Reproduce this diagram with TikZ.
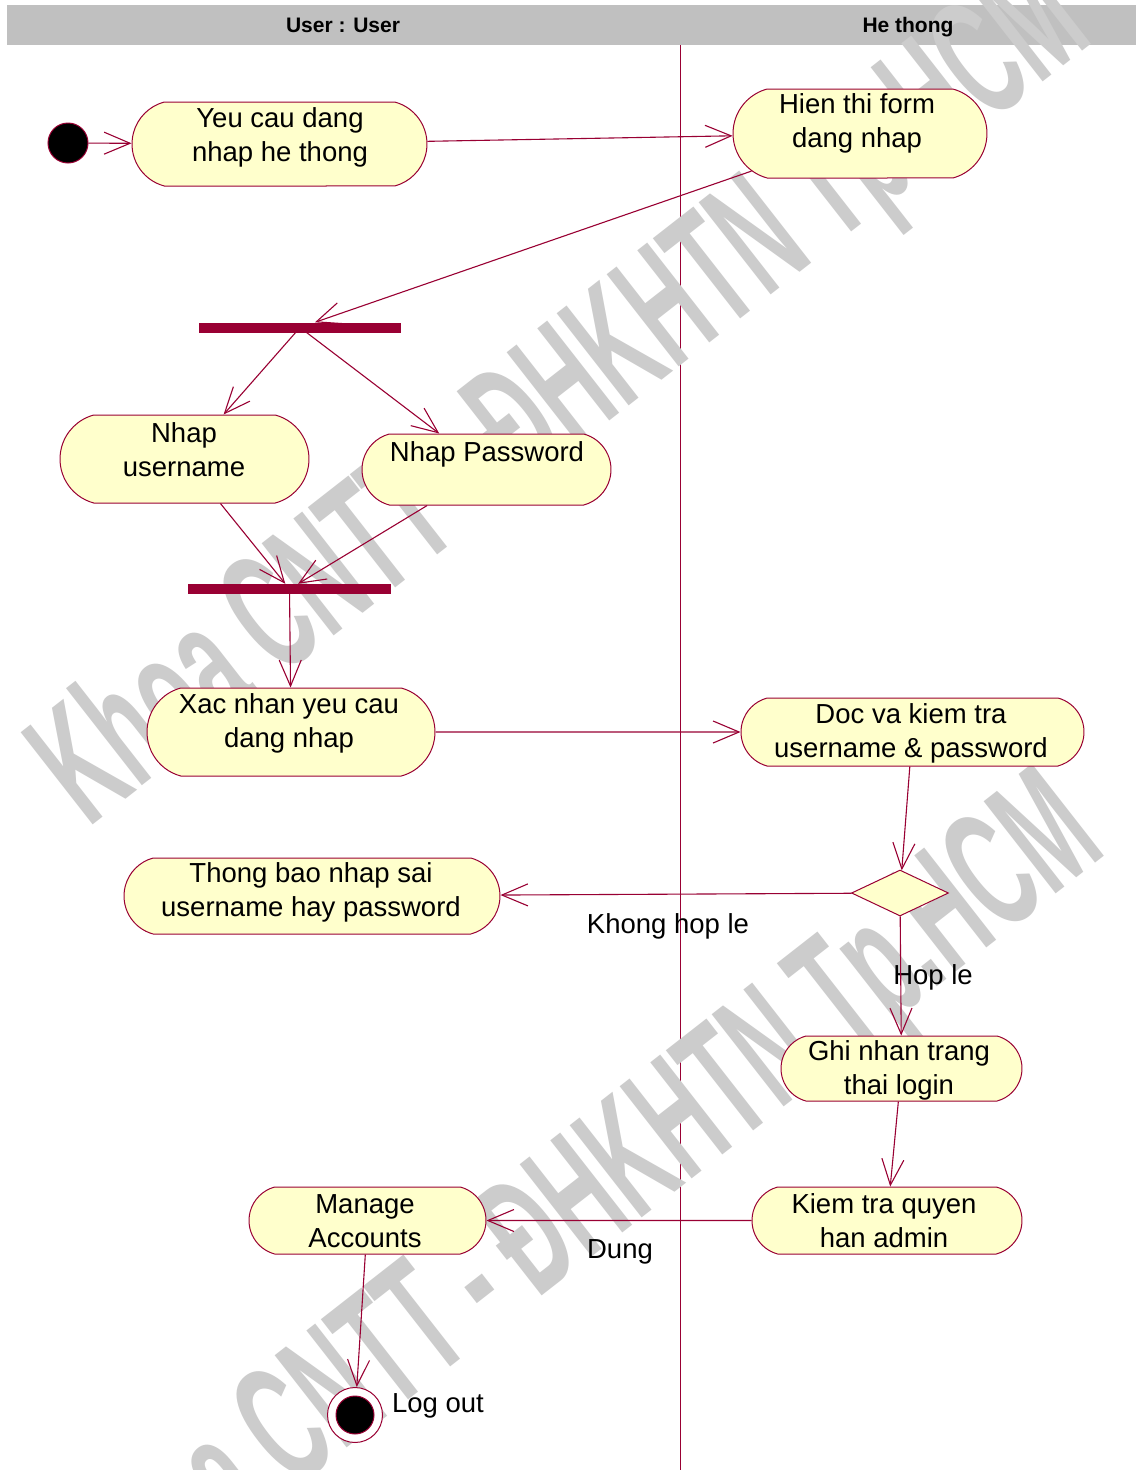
\documentclass[tikz,border=0pt]{standalone}
\usepackage{fontspec}
\setmainfont{Liberation Sans}
\usetikzlibrary{shapes.misc,shapes.geometric,arrows.meta}
\definecolor{uml}{HTML}{990033}
\definecolor{actfill}{HTML}{FFFFCC}
\definecolor{lanegray}{HTML}{C0C0C0}
\definecolor{wmgray}{HTML}{CCCCCC}

\begin{document}
\begin{tikzpicture}[x=1pt,y=-1pt,
  act/.style={rounded rectangle, rounded rectangle arc length=150,
    draw=uml, fill=actfill, line width=1pt, inner sep=0pt},
  lbl/.style={font=\fontsize{27.5}{34}\selectfont, align=center, inner sep=0pt},
  head/.style={font=\fontsize{21}{24}\selectfont\bfseries, inner sep=0pt, anchor=base},
  bar/.style={rectangle, fill=uml, draw=none, inner sep=0pt, minimum height=10pt},
  dot/.style={circle, fill=black, draw=uml, line width=1pt, inner sep=0pt},
  choice/.style={diamond, draw=uml, fill=actfill, line width=1pt, inner sep=0pt,
    minimum width=97pt, minimum height=46pt},
  flow/.style={draw=uml, line width=1.1pt,
    -{Straight Barb[length=26pt,width=22pt]}},
  wm/.style={text=wmgray, font=\fontsize{170}{170}\selectfont\bfseries, inner sep=0pt}]

\useasboundingbox (0,0) rectangle (1136,1470);
\fill[white] (0,0) rectangle (1136,1470);

% swimlane header band and divider
\fill[lanegray] (7,5) rectangle (1136,45);
\draw[uml, line width=1pt] (680,45) -- (680,1470);

% watermark
\node[wm, rotate=38] (wm1) at (565,400) {\scalebox{0.515}[1]{Khoa CNTT - ĐHKHTN Tp.HCM}};
\node[wm, rotate=38] (wm2) at (578,1212) {\scalebox{0.515}[1]{Khoa CNTT - ĐHKHTN Tp.HCM}};

% swimlane titles
\node[head] (laneU) at (343,32.5) {User : User};
\node[head] (laneH) at (908,32.5) {He thong};

% activities
\node[dot, minimum size=40pt] (start) at (68,143) {};
\node[act, minimum width=295pt, minimum height=84pt] (yeu) at (279.5,144) {};
\node[lbl] (yeuT) at (280,137) {Yeu cau dang\\nhap he thong};
\node[act, minimum width=254pt, minimum height=89pt] (hien) at (860,133.5) {};
\node[lbl] (hienT) at (857,123) {Hien thi form\\dang nhap};
\node[bar, minimum width=202pt] (fork) at (300,327.5) {};
\node[act, minimum width=249pt, minimum height=88pt] (user) at (184.5,459) {};
\node[lbl] (userT) at (184,450) {Nhap\\username};
\node[act, minimum width=249pt, minimum height=71pt] (pass) at (486.5,469.5) {};
\node[lbl] (passT) at (487,454) {Nhap Password};
\node[bar, minimum width=203pt] (join) at (289.5,589) {};
\node[act, minimum width=288pt, minimum height=88pt] (xac) at (291,732) {};
\node[lbl] (xacT) at (289,723) {Xac nhan yeu cau\\dang nhap};
\node[act, minimum width=343pt, minimum height=68pt] (doc) at (912.5,732) {};
\node[lbl] (docT) at (911,733) {Doc va kiem tra\\username \& password};
\node[choice] (dec) at (900,893) {};
\node[act, minimum width=376pt, minimum height=76pt] (thong) at (312,896) {};
\node[lbl] (thongT) at (311,892) {Thong bao nhap sai\\username hay password};
\node[act, minimum width=241pt, minimum height=65pt] (ghi) at (901.5,1068.5) {};
\node[lbl] (ghiT) at (899,1070) {Ghi nhan trang\\thai login};
\node[act, minimum width=270pt, minimum height=67pt] (kiem) at (887,1220.5) {};
\node[lbl] (kiemT) at (884,1221) {Kiem tra quyen\\han admin};
\node[act, minimum width=237pt, minimum height=67pt] (manage) at (367.5,1220.5) {};
\node[lbl] (manageT) at (365,1221) {Manage\\Accounts};
\node[circle, draw=uml, fill=white, line width=1pt, inner sep=0pt, minimum size=55pt] (fin) at (355,1415) {};
\node[dot, minimum size=38pt] (finDot) at (fin.center) {};

% guard and end labels
\node[lbl] (lKhong) at (668,926) {Khong hop le};
\node[lbl] (lHop) at (933,977) {Hop le};
\node[lbl] (lDung) at (620,1252) {Dung};
\node[lbl] (lOut) at (438,1406) {Log out};

% control flows
\draw[flow] (start) -- (yeu);
\draw[flow] (yeu) -- (hien);
\draw[flow] (hien) -- (fork);
\draw[flow] (fork) -- (user);
\draw[flow] (fork) -- (pass);
\draw[flow] (user) -- (join);
\draw[flow] (pass) -- (join);
\draw[flow] (join) -- (xac);
\draw[flow] (xac) -- (doc);
\draw[flow] (doc) -- (dec);
\draw[flow] (dec) -- (thong);
\draw[flow] (dec) -- (ghi);
\draw[flow] (ghi) -- (kiem);
\draw[flow] (kiem) -- (manage);
\draw[flow] (manage) -- (fin);
\end{tikzpicture}
\end{document}
